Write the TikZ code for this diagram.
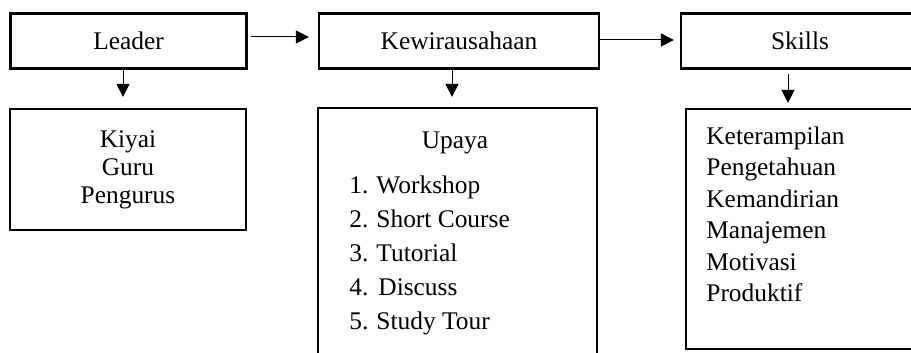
\documentclass[tikz,border=0pt]{standalone}
\usepackage{fontspec}
\setmainfont{Liberation Serif}
\usetikzlibrary{arrows.meta, positioning}

\begin{document}
\begin{tikzpicture}[
  x=0.5pt, y=-0.5pt,
  box/.style={draw, line width=1.1pt, minimum height=27.5pt, inner sep=0pt,
              align=center, font=\fontsize{12.7}{14}\selectfont},
  lst/.style={inner sep=0pt, align=left},
  arr/.style={-{Triangle[length=6.5pt, width=6.5pt]}, line width=0.5pt}
]
  \clip (0,0) rectangle (911,353);

  \node[box, minimum width=118pt] (leader) at (128.5, 41) {Leader};
  \node[box, minimum width=140pt] (kewira) at (459, 41) {Kewirausahaan};
  \node[box, minimum width=119pt] (skills) at (800, 41) {Skills};

  \node[box, minimum width=118pt, minimum height=60.5pt] (tokoh) at (128, 169.5) {Kiyai\\Guru\\Pengurus};
  \node[box, minimum width=139.5pt, minimum height=135pt] (upaya) at (457.5, 243) {};
  \node[box, minimum width=118pt, minimum height=120pt] (aspek) at (804, 229) {};

  \node[font=\fontsize{12.7}{15}\selectfont] (upayatitle) at (455, 143) {Upaya};
  \node[lst, anchor=north west, font=\fontsize{12.7}{17}\selectfont] (upayalist) at (349, 175)
    {1.\hspace{4pt}Workshop\\2.\hspace{4pt}Short Course\\3.\hspace{4pt}Tutorial\\4.\hspace{5pt}Discuss\\5.\hspace{4pt}Study Tour};
  \node[lst, anchor=north west, font=\fontsize{12.7}{15.75}\selectfont] (aspeklist) at (706, 126)
    {Keterampilan\\Pengetahuan\\Kemandirian\\Manajemen\\Motivasi\\Produktif};

  \draw[arr] ([xshift=1.5pt, yshift=2pt]leader.east) -- ([xshift=-4.5pt, yshift=2pt]kewira.west);
  \draw[arr] ([yshift=0.5pt]kewira.east) -- ([xshift=-3pt, yshift=0.5pt]skills.west);
  \draw[arr] ([xshift=-2.75pt]leader.south) -- ([xshift=-2.5pt, yshift=5.5pt]tokoh.north);
  \draw[arr] ([xshift=-3.5pt]kewira.south) -- ([xshift=-2.75pt, yshift=5pt]upaya.north);
  \draw[arr] ([xshift=-6pt, yshift=-2pt]skills.south) -- ([xshift=-8pt, yshift=2.5pt]aspek.north);
\end{tikzpicture}
\end{document}
